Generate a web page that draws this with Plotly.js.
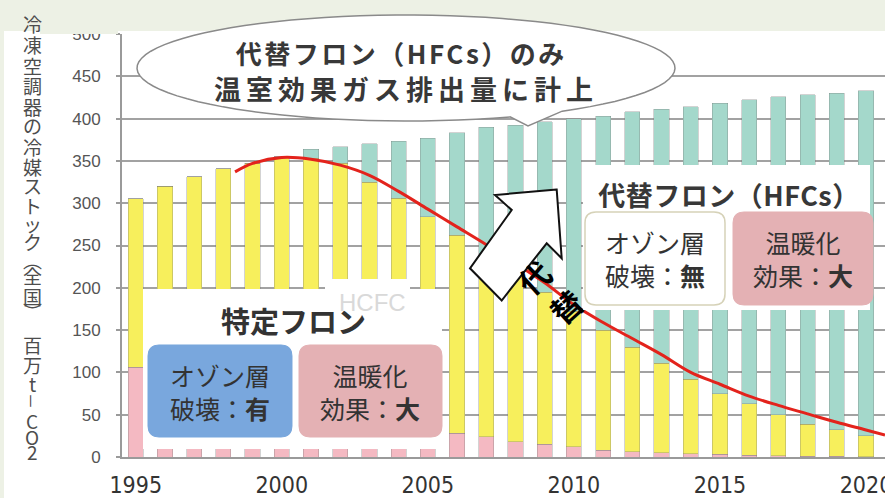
<!DOCTYPE html>
<html><head><meta charset="utf-8">
<script src="https://cdn.plot.ly/plotly-3.0.1.min.js"></script>
<style>
html,body{margin:0;padding:0;background:#fff;}
#chart{width:885px;height:498px;}
g.annotation[data-index="0"] text{letter-spacing:2.5px;}
g.annotation[data-index="1"] text{letter-spacing:5px;}
g.annotation[data-index="2"] text{letter-spacing:0.5px;}
</style>
</head><body><div id="chart"></div>
<script>
// ---- data ----
const years = [1995,1996,1997,1998,1999,2000,2001,2002,2003,2004,2005,2006,2007,2008,2009,2010,2011,2012,2013,2014,2015,2016,2017,2018,2019,2020];
const cfc  = [106,98,90,82,74,66,58,50,43,37,32,28,24,18,15,12,8,6,5,4,3,2,1.5,1,1,0.5];
const hcfc = [199,222,241,259,273,289,295,297,282,269,252,234,216,199,180,160,142,124,106,88,72,61,48.5,38,31,24.5];
const hfc  = [0,0,0,0,0,0,11,20,45,67,93,121,150,175,201,228,253,278,300,322,343,359,376,389,398,408];
const curveX = [1998.4,1999,2000,2001,2002,2003,2004,2005,2006,2007,2008,2009,2010,2011,2012,2013,2014,2015,2016,2017,2018,2019,2020,2020.65];
const curveY = [337,347,354,352,345,333,314,293,272,251,229,206,180,159,140,121,100,86,72,61,51,41,32,26];
const xTickVals = [1995,2000,2005,2010,2015,2020];
const xTickText = ['1995','2000','2005','2010','2015','2020'];
const yTickVals = [0,50,100,150,200,250,300,350,400,450,500];
const yTitleChars = ['冷','凍','空','調','器','の','冷','媒','ス','ト','ッ','ク','︵','全','国','︶','百','万','t','－','C','O','2'];
const bubbleLines = ['代替フロン（HFCs）のみ','温室効果ガス排出量に計上'];
const hfcTitle = '代替フロン（HFCs）';
const oldTitle = '特定フロン';
const hcfcLabel = 'HCFC';
const boxOzoneOld = 'オゾン層<br>破壊：<b>有</b>';
const boxWarm = '温暖化<br>効果：<b>大</b>';
const boxOzoneNew = 'オゾン層<br>破壊：<b>無</b>';
const arrowChars = ['代','替'];

// ---- layout helpers (pixel -> paper) ----
const L=122, T=34, W=763, H=423;
const px = x => (x-L)/W;
const py = y => (T+H-y)/H;
const P = (x,y) => px(x).toFixed(5)+','+py(y).toFixed(5);
function rrect(x0,y0,x1,y1,r){
  return 'M'+P(x0+r,y0)+' L'+P(x1-r,y0)+' Q'+P(x1,y0)+' '+P(x1,y0+r)+
    ' L'+P(x1,y1-r)+' Q'+P(x1,y1)+' '+P(x1-r,y1)+' L'+P(x0+r,y1)+
    ' Q'+P(x0,y1)+' '+P(x0,y1-r)+' L'+P(x0,y0+r)+' Q'+P(x0,y0)+' '+P(x0+r,y0)+' Z';
}
function rect(x0,y0,x1,y1,fill,layer){
  return {type:'rect',xref:'paper',yref:'paper',x0:px(x0),x1:px(x1),y0:py(y1),y1:py(y0),
    fillcolor:fill,line:{width:0},layer:layer||'above'};
}
function pathShape(d,fill,lc,lw){
  return {type:'path',xref:'paper',yref:'paper',path:d,fillcolor:fill,line:{color:lc,width:lw},layer:'above'};
}
// speech bubble
const cx=406, cy=68, rx=269, ry=53;
const a0=67.25, a1=414.5;
let bub='';
for(let a=a0;a<=a1+0.001;a+=(a1-a0)/90){
  const t=a*Math.PI/180;
  bub += (bub?' L':'M') + P(cx+rx*Math.cos(t), cy+ry*Math.sin(t));
}
bub += ' L'+P(528,126)+' Z';
// arrow
const arrowPts=[[556.7,189.5],[495,195],[511.7,210],[470,268.3],[501.7,300.5],[546.7,243.3],[561.7,258.3]];
const arrowPath = 'M'+arrowPts.map(p=>P(p[0],p[1])).join(' L')+' Z';

const shapes = [
  rect(0,0,885,31,'#edf1e5'),
  rect(40,0,118,34,'#edf1e5'),
  rect(0,31,4,498,'#edf1e5'),
  rect(143,289,442,449,'#ffffff'),
  rect(325,279,410,296,'#ffffff'),
  pathShape(rrect(148,345,292,437,11),'#79a7dd','#79a7dd',1),
  pathShape(rrect(299,345,442,437,11),'#e4b1b4','#e4b1b4',1),
  rect(583,165,870,310,'#ffffff'),
  pathShape(rrect(585,212,725,305,11),'#ffffff','#d6d2b8',1.5),
  pathShape(rrect(733,212,873,305,11),'#e4b1b4','#e4b1b4',1),
  pathShape(arrowPath,'#ffffff','#111111',2),
  pathShape(bub,'#ffffff','#8a8a8a',1.5)
];

const annotations = [];
function ann(text,x,y,size,opts){
  annotations.push(Object.assign({text:text,xref:'paper',yref:'paper',x:px(x),y:py(y),
    xanchor:'center',yanchor:'middle',showarrow:false,
    font:{family:'Noto Sans CJK JP',size:size,color:'#333'}},opts||{}));
}
ann(bubbleLines[0],401,53,26,{font:{family:'Noto Sans CJK JP',size:26,color:'#383838',weight:'bold'}});
ann(bubbleLines[1],406,89,27,{font:{family:'Noto Sans CJK JP',size:27,color:'#383838',weight:'bold'}});
ann(hfcTitle,729,194,27,{font:{family:'Noto Sans CJK JP',size:27,color:'#383838',weight:'bold'}});
ann(oldTitle,293,320,29,{font:{family:'Noto Sans CJK JP',size:29,color:'#333',weight:'bold'}});
ann(hcfcLabel,372,303,24,{font:{family:'Liberation Sans',size:24,color:'#d9d9d9'}});
ann(boxOzoneOld,220,391,25);
ann(boxWarm,370,391,25);
ann(boxOzoneNew,655,258,25);
ann(boxWarm,803,258,25);
ann(arrowChars[0],533,277,31,{textangle:-42,font:{family:'Noto Sans CJK JP',size:31,color:'#000',weight:'bold'}});
ann(arrowChars[1],565,306,31,{textangle:-42,font:{family:'Noto Sans CJK JP',size:31,color:'#000',weight:'bold'}});
const titleY=[24,44,65,86,106,126,146,166,186,205,223,241,259,275,296,311,344,364,383,401,420,436,451];
yTitleChars.forEach((c,i)=>ann(c,32,titleY[i],c==='－'?16:19,
  {textangle:c==='－'?90:0,font:{family:'Noto Sans CJK JP',size:c==='－'?16:19,color:'#4d4d4d'}}));

const barLine={width:0.6,color:'rgba(120,120,120,0.55)'};
const data=[
  {type:'bar',x:years,y:cfc,name:'CFC',marker:{color:'#f4b9c2',line:barLine},width:0.52,hoverinfo:'x+y'},
  {type:'bar',x:years,y:hcfc,name:'HCFC',marker:{color:'#f7ef5c',line:barLine},width:0.52,hoverinfo:'x+y'},
  {type:'bar',x:years,y:hfc,name:'HFC',marker:{color:'#a4d8cb',line:barLine},width:0.52,hoverinfo:'x+y'},
  {type:'scatter',mode:'lines',x:curveX,y:curveY,line:{color:'#e3231c',width:3,shape:'spline'},hoverinfo:'skip'}
];
const layout={
  width:885,height:498,
  margin:{l:L,r:0,t:T,b:41,pad:0},
  paper_bgcolor:'#ffffff',plot_bgcolor:'#ffffff',
  showlegend:false,barmode:'stack',
  xaxis:{range:[1994.53,2020.65],tickmode:'array',tickvals:xTickVals,ticktext:xTickText,
    showgrid:false,zeroline:false,showline:true,linecolor:'#9a9a9a',linewidth:2,ticks:'',
    ticklabelstandoff:6,ticklabeloverflow:'allow',
    tickfont:{family:'Liberation Sans Narrow, Arial Narrow, DejaVu Sans Condensed',size:23,color:'#333'}},
  yaxis:{range:[0,500],tickmode:'array',tickvals:yTickVals,
    showgrid:true,gridcolor:'#a2a2a2',gridwidth:2,zeroline:false,showline:true,linecolor:'#9a9a9a',linewidth:2,
    ticks:'outside',ticklen:4,tickcolor:'#9a9a9a',tickwidth:2,ticklabelstandoff:12,
    tickfont:{family:'Liberation Sans',size:17,color:'#555'}},
  shapes:shapes,annotations:annotations
};
Plotly.newPlot('chart',data,layout,{staticPlot:true});
</script>
</body></html>
